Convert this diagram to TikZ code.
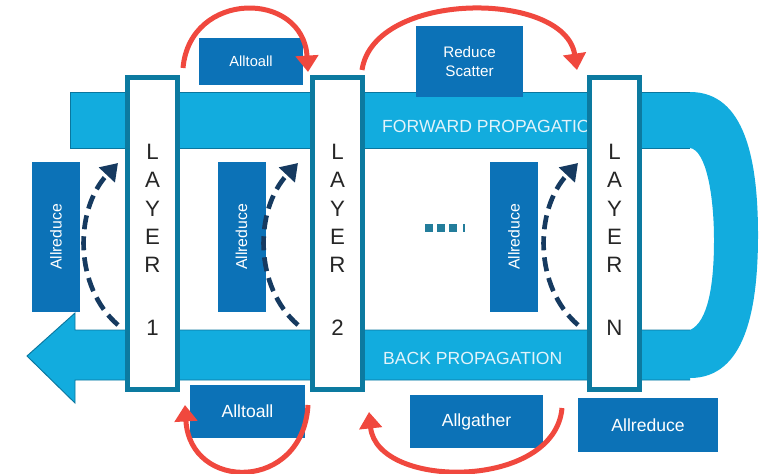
\documentclass[tikz,border=0pt]{standalone}
\usepackage{fontspec}
\setmainfont{Liberation Sans}
\usetikzlibrary{arrows.meta, calc}
\definecolor{bandblue}{RGB}{18,172,222}
\definecolor{banddark}{RGB}{10,118,158}
\definecolor{layline}{RGB}{12,122,160}
\definecolor{opblue}{RGB}{12,114,183}
\definecolor{xred}{RGB}{240,72,62}
\definecolor{syncnavy}{RGB}{22,58,96}
\definecolor{bandtext}{RGB}{226,243,250}
\definecolor{dotteal}{RGB}{35,125,155}
\tikzset{
  band/.style={fill=bandblue, draw=banddark, line width=0.8pt},
  bandlab/.style={anchor=west, text=bandtext, inner sep=0pt, font=\fontsize{15}{18}\selectfont},
  layer/.style={draw=layline, fill=white, line width=0.15cm, minimum width=1.5cm, minimum height=9.36cm, inner sep=0pt},
  laytxt/.style={align=center, inner sep=0pt, text=black!85, font=\fontsize{19}{24}\selectfont},
  op/.style={fill=opblue, text=white, inner sep=0pt, align=center},
  opv/.style={op, rotate=90, minimum width=4.5cm, minimum height=1.44cm, font=\fontsize{13.5}{16}\selectfont},
  xfer/.style={draw=xred, line width=0.15cm, -{Triangle[length=14pt, width=19pt]}},
  sync/.style={draw=syncnavy, line width=0.14cm, dash pattern=on 12pt off 6pt, -{Triangle[length=14pt, width=18pt]}},
}

\begin{document}
\begin{tikzpicture}[x=0.03cm, y=-0.03cm]
  \useasboundingbox (0,0) rectangle (765,473);

  % ---- the loop: forward band, turn, back arrow -----------------------------
  \fill[bandblue] (680,92) -- (690,92) .. controls (745,92) and (758,160) .. (758,235)
    .. controls (758,310) and (745,378) .. (690,378) -- (680,378) -- (680,330) -- (690,330)
    .. controls (708,322) and (714,285) .. (714,240) .. controls (714,195) and (706,150) .. (690,148)
    -- (680,148) -- cycle;
  \fill[bandblue] (70,92) rectangle (690,148);
  \draw[band, fill=none] (690,92) -- (70,92) -- (70,148) -- (690,148);
  \path[band] (690,330) -- (75,330) -- (75,313) -- (27,356) -- (75,403) -- (75,380) -- (690,380);
  \node[bandlab] (fwdlab) at (382,126) {FORWARD PROPAGATION};
  \node[bandlab] (backlab) at (383,358) {BACK PROPAGATION};

  % ---- layers ----------------------------------------------------------------
  \node[layer] (lay1) at (152.5,233.5) {};
  \node[layer] (lay2) at (337.5,233.5) {};
  \node[layer] (layN) at (614.5,233.5) {};
  \node[laytxt] (lay1txt) at (152.5,240) {L\\A\\Y\\E\\R\\[30pt]1};
  \node[laytxt] (lay2txt) at (337.5,240) {L\\A\\Y\\E\\R\\[30pt]2};
  \node[laytxt] (layNtxt) at (614.5,240) {L\\A\\Y\\E\\R\\[30pt]N};

  % ---- collectives -----------------------------------------------------------
  \node[op, minimum width=3.12cm, minimum height=1.41cm, font=\fontsize{12.5}{15}\selectfont] (a2atop) at (251,61.5) {Alltoall};
  \node[op, minimum width=3.21cm, minimum height=2.13cm, font=\fontsize{13}{16}\selectfont] (rstop) at (469.5,61.5) {Reduce\\Scatter};
  \node[op, minimum width=3.45cm, minimum height=1.59cm, font=\fontsize{15}{18}\selectfont] (a2abot) at (247.5,411.5) {Alltoall};
  \node[op, minimum width=3.99cm, minimum height=1.59cm, font=\fontsize{15}{18}\selectfont] (agbot) at (476.5,421.5) {Allgather};
  \node[op, minimum width=4.2cm, minimum height=1.62cm, font=\fontsize{15}{18}\selectfont] (arbot) at (648,425) {Allreduce};
  \node[opv] (ar1) at (56,237) {Allreduce};
  \node[opv] (ar2) at (241.5,237) {Allreduce};
  \node[opv] (ar3) at (514,237) {Allreduce};

  % ---- dots between layer 2 and layer N --------------------------------------
  \foreach \x in {429,441,453} \fill[dotteal] (\x-4,224) rectangle (\x+4,232);
  \fill[dotteal] (463,224) rectangle (465,232);

  % ---- transfers between layers ----------------------------------------------
  \draw[xfer] ([shift={(3,-7)}]lay1.north east) .. controls +(7,-78) and +(-5,-82) .. ([shift={(-2,-3)}]lay2.north west);
  \draw[xfer] ([shift={(-3,-5)}]lay2.north east) .. controls +(12,-80) and +(-12,-80) .. ([shift={(-10,-5)}]layN.north west);
  \draw[xfer] ([shift={(-2,13)}]lay2.south west) .. controls +(-5,87) and +(5,87) .. ([shift={(5,13)}]lay1.south east);
  \draw[xfer] ([shift={(-25,16)}]layN.south west) .. controls +(-7,82) and +(8,78) .. ([shift={(4,20)}]lay2.south east);

  % ---- allreduce syncs -------------------------------------------------------
  \foreach \l/\dx in {lay1/-7, lay2/-12, layN/-9}
    \draw[sync] ([shift={(\dx,91.5)}]\l.west) .. controls +(-44,-38) and +(-44,47) .. ([shift={(\dx,-70.5)}]\l.west);
\end{tikzpicture}
\end{document}
